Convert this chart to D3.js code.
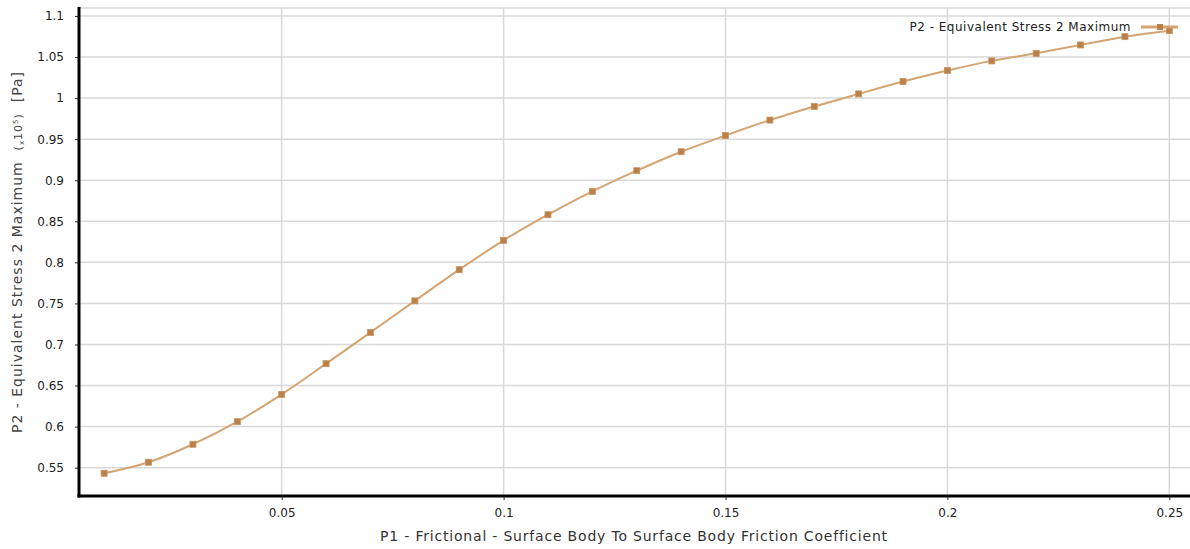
<!DOCTYPE html>
<html>
<head>
<meta charset="utf-8">
<script src="https://cdn.jsdelivr.net/npm/d3@7"></script>
<style>
    body { margin: 0; background: #fff; }
    svg { display: block; font-family: "DejaVu Sans", sans-serif; }
</style>
</head>
<body>
<svg width="1190" height="549"></svg>
<script>
// friction coefficient (P1) vs equivalent stress max (P2, x10^5 Pa)
var friction = [0.01, 0.02, 0.03, 0.04, 0.05, 0.06, 0.07, 0.08, 0.09, 0.10,
    0.11, 0.12, 0.13, 0.14, 0.15, 0.16, 0.17, 0.18, 0.19, 0.20,
    0.21, 0.22, 0.23, 0.24, 0.25];
var stress = [0.5432, 0.5566, 0.5785, 0.606, 0.6393, 0.6766, 0.7147, 0.7531, 0.7911, 0.8268,
    0.858, 0.8864, 0.9116, 0.9347, 0.9545, 0.9732, 0.9897, 1.0051, 1.0201, 1.0335,
    1.0453, 1.0545, 1.0647, 1.0748, 1.0821];
var xTicks = [0.05, 0.1, 0.15, 0.2, 0.25];
var yTicks = [0.55, 0.6, 0.65, 0.7, 0.75, 0.8, 0.85, 0.9, 0.95, 1, 1.05, 1.1];
var seriesName = 'P2 - Equivalent Stress 2 Maximum';

var svg = d3.select('svg');
var margin = {top: 8, right: 0, bottom: 53, left: 79};
var width = 1190;
var height = 549;

var xScale = d3.scaleLinear()
    .domain([0.00433, 0.25466])
    .range([margin.left, width - margin.right]);

var yScale = d3.scaleLinear()
    .domain([0.5155, 1.1097])
    .range([height - margin.bottom, margin.top]);

var g = svg.append('g');

// grid
g.selectAll('.hgrid')
    .data(yTicks.concat([1.1097]))
    .enter().append('line')
    .attr('x1', margin.left).attr('x2', width)
    .attr('y1', function (d) { return yScale(d); })
    .attr('y2', function (d) { return yScale(d); })
    .attr('stroke', '#d9d9d9').attr('stroke-width', 1.5);

g.selectAll('.vgrid')
    .data(xTicks)
    .enter().append('line')
    .attr('x1', function (d) { return xScale(d); })
    .attr('x2', function (d) { return xScale(d); })
    .attr('y1', margin.top).attr('y2', height - margin.bottom)
    .attr('stroke', '#d9d9d9').attr('stroke-width', 1.5);

// axes
var fmt = function (d) { return d3.format('')(+d.toFixed(2)); };

var xAxis = g.append('g')
    .attr('transform', 'translate(0,' + (height - margin.bottom) + ')')
    .call(d3.axisBottom(xScale).tickValues(xTicks).tickSize(4).tickPadding(8).tickFormat(fmt));

var yAxis = g.append('g')
    .attr('transform', 'translate(' + margin.left + ',0)')
    .call(d3.axisLeft(yScale).tickValues(yTicks).tickSize(4).tickPadding(11).tickFormat(fmt));

[xAxis, yAxis].forEach(function (a) {
    a.select('.domain').attr('stroke', '#000').attr('stroke-width', 3);
    a.selectAll('.tick line').attr('stroke', '#222');
    a.selectAll('.tick text').attr('fill', '#222').style('font-size', '12px')
        .style('font-family', '"DejaVu Sans", sans-serif');
});
yAxis.select('.domain').attr('d', 'M0,' + (margin.top - 1) + 'V' + (height - margin.bottom + 1.5));
xAxis.select('.domain').attr('d', 'M' + (margin.left - 1.5) + ',0H' + width);

// axis titles
g.append('text')
    .attr('x', 634)
    .attr('y', 541)
    .attr('text-anchor', 'middle')
    .attr('fill', '#333')
    .style('font-size', '14px')
    .style('letter-spacing', '0.8px')
    .text('P1 - Frictional - Surface Body To Surface Body Friction Coefficient');

var yTitle = g.append('text')
    .attr('transform', 'translate(22,252) rotate(-90)')
    .attr('text-anchor', 'middle')
    .attr('fill', '#444')
    .style('font-size', '14px')
    .style('letter-spacing', '1px');
yTitle.append('tspan').text('P2 - Equivalent Stress 2 Maximum\u00a0\u00a0');
yTitle.append('tspan').style('font-size', '11px').text('(');
yTitle.append('tspan').style('font-size', '7px').attr('dy', 2).text('x');
yTitle.append('tspan').style('font-size', '11px').attr('dy', -2).text('10');
yTitle.append('tspan').style('font-size', '7px').attr('dy', -4).text('5');
yTitle.append('tspan').style('font-size', '11px').attr('dy', 4).text(')');
yTitle.append('tspan').text('\u00a0\u00a0[Pa]');

// series
var data = friction.map(function (f, i) { return {x: f, y: stress[i]}; });
var lineColor = '#d4a473';
var markColor = '#b98049';

g.append('path')
    .datum(data)
    .attr('fill', 'none')
    .attr('stroke', lineColor)
    .attr('stroke-width', 2)
    .attr('d', d3.line()
        .x(function (d) { return xScale(d.x); })
        .y(function (d) { return yScale(d.y); })
        .curve(d3.curveMonotoneX));

g.selectAll('.mark')
    .data(data)
    .enter().append('rect')
    .attr('x', function (d) { return xScale(d.x) - 3; })
    .attr('y', function (d) { return yScale(d.y) - 3; })
    .attr('width', 6).attr('height', 6)
    .attr('fill', markColor)
    .attr('stroke', '#c89461').attr('stroke-width', 0.8);

// legend
var legend = g.append('g').attr('transform', 'translate(1160,27)');
legend.append('line')
    .attr('x1', -19).attr('x2', 18)
    .attr('stroke', lineColor).attr('stroke-width', 3);
legend.append('rect')
    .attr('x', -3).attr('y', -3).attr('width', 6).attr('height', 6)
    .attr('fill', markColor);
legend.append('text')
    .attr('x', -29).attr('y', 4)
    .attr('text-anchor', 'end')
    .attr('fill', '#222')
    .style('font-size', '12px')
    .style('letter-spacing', '0.5px')
    .text(seriesName);
</script>
</body>
</html>
